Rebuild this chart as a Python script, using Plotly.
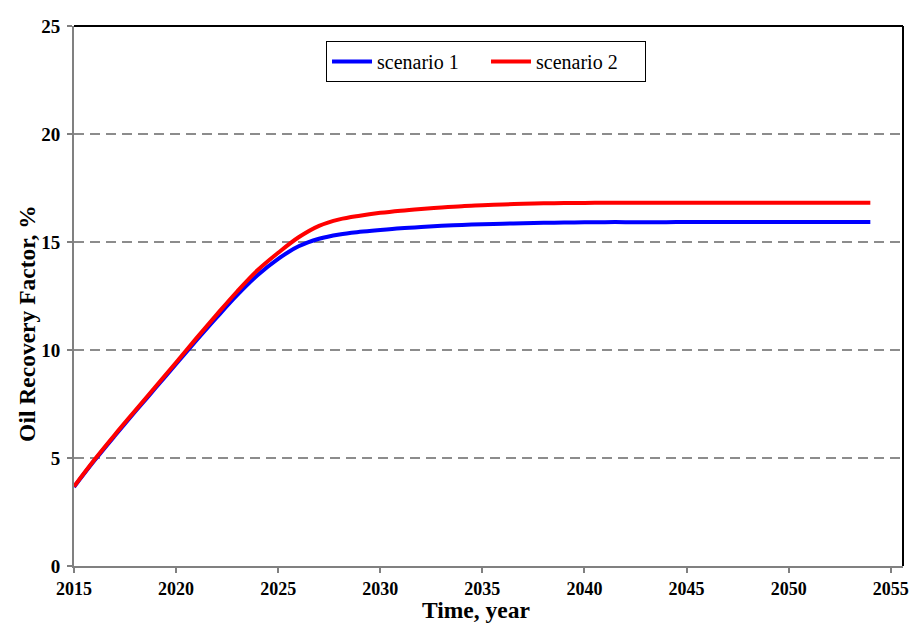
import plotly.graph_objects as go

years = list(range(2015, 2055))
scenario1 = [3.66, 4.88, 6.03, 7.15, 8.25, 9.35, 10.45, 11.52, 12.55, 13.47,
             14.22, 14.8, 15.15, 15.35, 15.47, 15.56, 15.64, 15.7, 15.75, 15.79,
             15.82, 15.85, 15.87, 15.89, 15.9, 15.91, 15.92, 15.92, 15.92, 15.92,
             15.93, 15.93, 15.93, 15.93, 15.93, 15.93, 15.93, 15.93, 15.93, 15.93]
scenario2 = [3.68, 4.92, 6.08, 7.2, 8.31, 9.42, 10.55, 11.65, 12.72, 13.7,
             14.5, 15.22, 15.75, 16.05, 16.22, 16.35, 16.45, 16.53, 16.6, 16.66,
             16.7, 16.74, 16.77, 16.79, 16.8, 16.81, 16.82, 16.82, 16.82, 16.82,
             16.82, 16.82, 16.82, 16.82, 16.82, 16.82, 16.82, 16.82, 16.82, 16.82]

x_ticks = [2015, 2020, 2025, 2030, 2035, 2040, 2045, 2050, 2055]
y_ticks = [0, 5, 10, 15, 20, 25]

FONT = "Liberation Serif, Times New Roman, serif"

fig = go.Figure()
fig.add_trace(go.Scatter(x=years, y=scenario1, mode="lines", name="scenario 1",
                         line=dict(color="#0000FF", width=4, shape="spline")))
fig.add_trace(go.Scatter(x=years, y=scenario2, mode="lines", name="scenario 2",
                         line=dict(color="#FF0000", width=4, shape="spline")))

fig.update_layout(
    width=909, height=618,
    margin=dict(l=65.5, r=8, t=14, b=60),
    paper_bgcolor="white", plot_bgcolor="white",
    font=dict(family=FONT, color="black"),
    showlegend=True,
    legend=dict(orientation="h", x=0.497, xanchor="center", y=0.9724, yanchor="top",
                bgcolor="white", bordercolor="black", borderwidth=1,
                font=dict(family=FONT, size=20, color="black"),
                itemwidth=40, entrywidth=104, entrywidthmode="pixels",
                tracegroupgap=0),
    xaxis=dict(range=[2015, 2055.6], tickvals=x_ticks, ticktext=[str(v) for v in x_ticks],
               showgrid=False, zeroline=False,
               showline=True, linecolor="#808080", linewidth=2,
               ticks="outside", ticklen=5, tickcolor="#808080", tickwidth=1.5,
               tickfont=dict(family=FONT, size=18, color="black", weight="bold")),
    yaxis=dict(range=[0, 25], tickvals=y_ticks, ticktext=[str(v) for v in y_ticks],
               showgrid=True, gridcolor="#8c8c8c", gridwidth=1.5, griddash="10px,6px",
               zeroline=False,
               showline=True, linecolor="#808080", linewidth=2,
               ticks="outside", ticklen=5, tickcolor="#808080", tickwidth=1.5,
               ticklabelstandoff=3,
               tickfont=dict(family=FONT, size=19, color="black", weight="bold")),
    shapes=[
        dict(type="line", xref="paper", yref="paper", x0=0, x1=1, y0=1, y1=1,
             line=dict(color="black", width=2)),
        dict(type="line", xref="paper", yref="paper", x0=1, x1=1, y0=0, y1=1,
             line=dict(color="black", width=2)),
    ],
    annotations=[
        dict(text="<b>Time, year</b>", xref="paper", yref="paper",
             x=0.485, y=-0.082, xanchor="center", yanchor="middle", showarrow=False,
             font=dict(family=FONT, size=23.5, color="black")),
        dict(text="<b>Oil Recovery Factor, %</b>", xref="paper", yref="paper",
             x=-0.0566, y=0.4485, xanchor="center", yanchor="middle", showarrow=False,
             textangle=-90, font=dict(family=FONT, size=23.5, color="black")),
    ],
)

fig.write_html("out.html")
